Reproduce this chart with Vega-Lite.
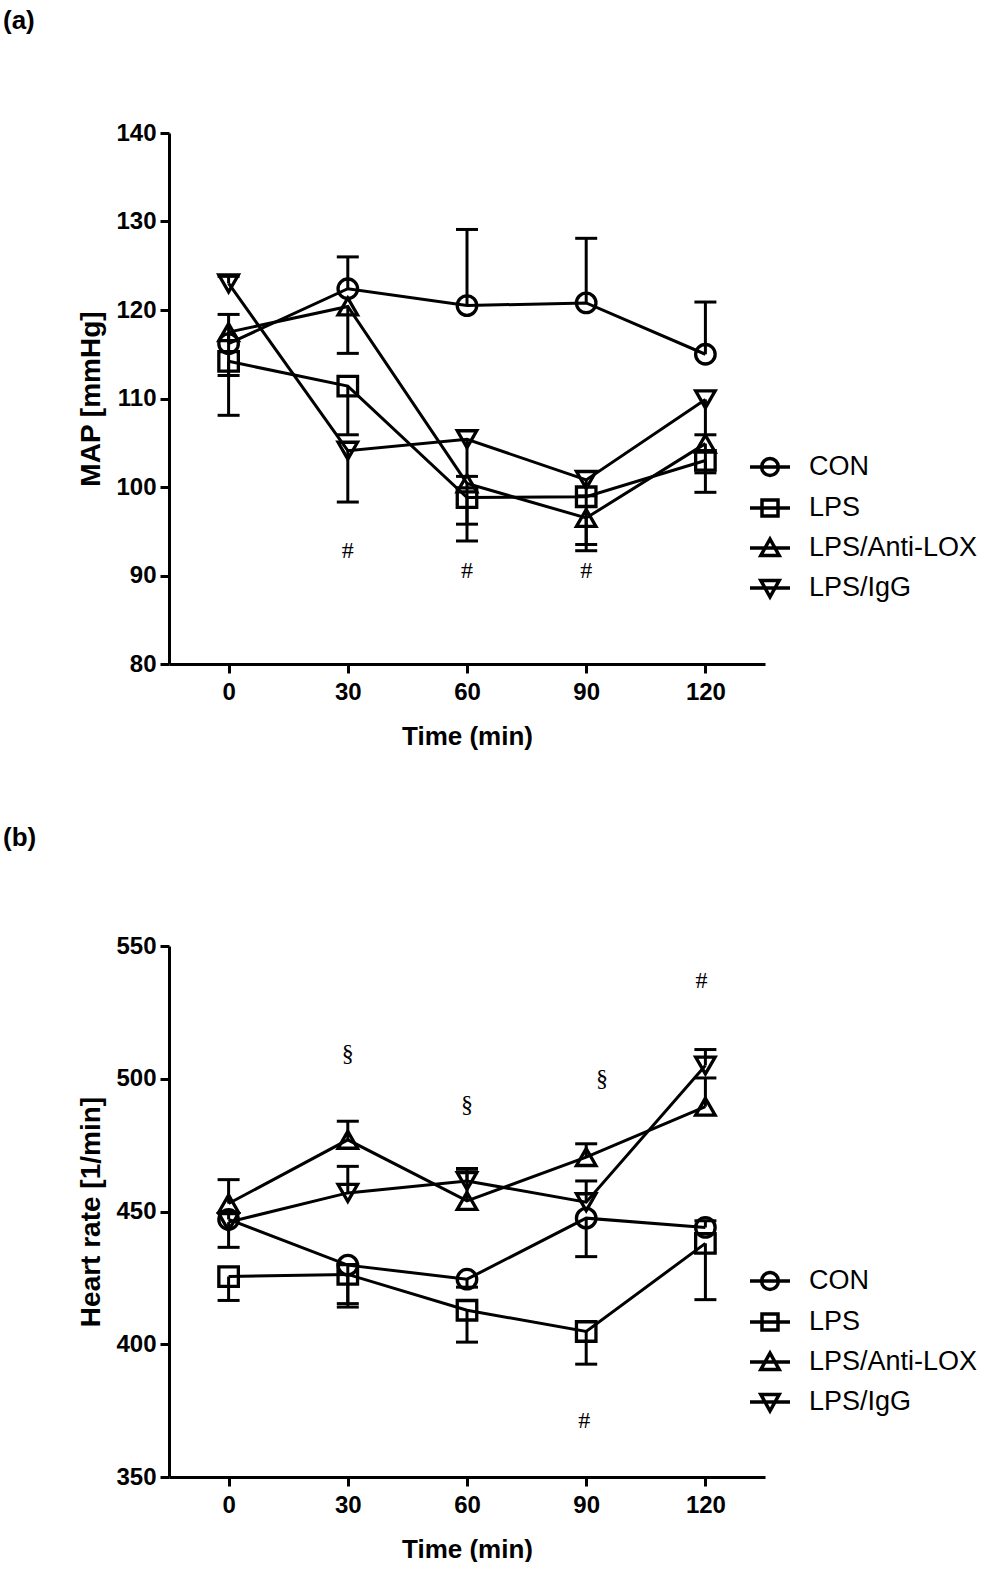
{
  "$schema": "https://vega.github.io/schema/vega-lite/v6.json",
  "background": "white",
  "padding": {"left": 3, "top": 8, "right": 0, "bottom": 0},
  "spacing": 76,
  "config": {
    "view": {"stroke": null},
    "font": "Liberation Sans",
    "axis": {"domainColor": "black", "domainWidth": 3, "tickColor": "black", "tickWidth": 3, "tickSize": 9, "labelFont": "Liberation Sans", "labelFontWeight": "bold", "labelFontSize": 24, "labelColor": "black", "titleFont": "Liberation Sans", "titleFontWeight": "bold", "titleColor": "black", "grid": false, "labelPadding": 4, "labelFlush": false, "labelOverlap": false},
    "axisX": {"titleFontSize": 26, "titlePadding": 19, "labelPadding": 7},
    "axisY": {"titleFontSize": 28, "titlePadding": 10},
    "legend": {"orient": "none", "title": null, "labelFont": "Liberation Sans", "labelFontSize": 27, "labelColor": "black", "labelLimit": 0, "symbolSize": 1600, "symbolStrokeWidth": 3.5, "symbolStrokeColor": "black", "symbolFillColor": "transparent", "symbolOpacity": 1, "labelOffset": 17, "rowPadding": 3, "padding": 0},
    "title": {"font": "Liberation Sans", "fontWeight": "bold", "fontSize": 26, "color": "black", "anchor": "start", "frame": "group"}
  },
  "datasets": {
    "a": [
      {"t": 0, "g": "CON", "v": 116.2, "e": 119.5},
      {"t": 30, "g": "CON", "v": 122.4, "e": 126.0},
      {"t": 60, "g": "CON", "v": 120.5, "e": 129.1},
      {"t": 90, "g": "CON", "v": 120.8, "e": 128.1},
      {"t": 120, "g": "CON", "v": 115.0, "e": 120.9},
      {"t": 0, "g": "LPS", "v": 114.2, "e": 108.1},
      {"t": 30, "g": "LPS", "v": 111.4, "e": 105.9},
      {"t": 60, "g": "LPS", "v": 98.8, "e": 93.9},
      {"t": 90, "g": "LPS", "v": 98.9, "e": 93.5},
      {"t": 120, "g": "LPS", "v": 103.0, "e": 99.4},
      {"t": 0, "g": "LPS/Anti-LOX", "v": 117.5, "e": 112.6},
      {"t": 30, "g": "LPS/Anti-LOX", "v": 120.4, "e": 115.1},
      {"t": 60, "g": "LPS/Anti-LOX", "v": 100.4, "e": 95.8},
      {"t": 90, "g": "LPS/Anti-LOX", "v": 96.5, "e": 92.8},
      {"t": 120, "g": "LPS/Anti-LOX", "v": 104.9, "e": 101.6},
      {"t": 0, "g": "LPS/IgG", "v": 123.0, "e": 123.8},
      {"t": 30, "g": "LPS/IgG", "v": 104.1, "e": 98.3},
      {"t": 60, "g": "LPS/IgG", "v": 105.4, "e": 101.2},
      {"t": 90, "g": "LPS/IgG", "v": 100.8, "e": 99.0},
      {"t": 120, "g": "LPS/IgG", "v": 109.9, "e": 105.9}
    ],
    "b": [
      {"t": 0, "g": "CON", "v": 447.0, "e": 449.5},
      {"t": 30, "g": "CON", "v": 429.8, "e": 415.3},
      {"t": 60, "g": "CON", "v": 424.5, "e": 421.5},
      {"t": 90, "g": "CON", "v": 447.5, "e": 433.0},
      {"t": 120, "g": "CON", "v": 444.0, "e": 446.5},
      {"t": 0, "g": "LPS", "v": 425.5, "e": 416.5},
      {"t": 30, "g": "LPS", "v": 426.3, "e": 414.0},
      {"t": 60, "g": "LPS", "v": 412.8, "e": 400.8},
      {"t": 90, "g": "LPS", "v": 404.8, "e": 392.5},
      {"t": 120, "g": "LPS", "v": 438.0, "e": 416.8},
      {"t": 0, "g": "LPS/Anti-LOX", "v": 453.0, "e": 462.0},
      {"t": 30, "g": "LPS/Anti-LOX", "v": 477.0, "e": 484.0},
      {"t": 60, "g": "LPS/Anti-LOX", "v": 454.0, "e": 465.0},
      {"t": 90, "g": "LPS/Anti-LOX", "v": 470.5, "e": 475.5},
      {"t": 120, "g": "LPS/Anti-LOX", "v": 489.5, "e": 500.3},
      {"t": 0, "g": "LPS/IgG", "v": 446.0, "e": 436.5},
      {"t": 30, "g": "LPS/IgG", "v": 457.0, "e": 467.0},
      {"t": 60, "g": "LPS/IgG", "v": 461.5, "e": 466.2},
      {"t": 90, "g": "LPS/IgG", "v": 453.5, "e": 461.5},
      {"t": 120, "g": "LPS/IgG", "v": 505.0, "e": 511.0}
    ],
    "annA": [
      {"t": 30, "v": 92.8, "s": "#"},
      {"t": 60, "v": 90.5, "s": "#"},
      {"t": 90, "v": 90.5, "s": "#"}
    ],
    "annB": [
      {"t": 30, "v": 509.5, "s": "§"},
      {"t": 60, "v": 490.0, "s": "§"},
      {"t": 94, "v": 500.0, "s": "§"},
      {"t": 119, "v": 537.0, "s": "#"},
      {"t": 89.5, "v": 371.0, "s": "#"}
    ]
  },
  "vconcat": [
    {
      "width": 596,
      "height": 531,
      "title": {"text": "(a)", "dx": -166, "offset": 87},
      "resolve": {"scale": {"shape": "independent"}, "legend": {"shape": "independent"}},
      "layer": [
        {
          "data": {"name": "a"},
          "mark": {"type": "line", "color": "black", "strokeWidth": 3},
          "encoding": {
            "x": {"field": "t", "type": "quantitative", "scale": {"domain": [-15, 135], "nice": false, "zero": false}, "axis": {"values": [0, 30, 60, 90, 120], "title": "Time (min)"}},
            "y": {"field": "v", "type": "quantitative", "scale": {"domain": [80, 140], "nice": false, "zero": false}, "axis": {"values": [80, 90, 100, 110, 120, 130, 140], "title": "MAP [mmHg]"}},
            "detail": {"field": "g", "type": "nominal"}
          }
        },
        {
          "data": {"name": "a"},
          "mark": {"type": "rule", "color": "black", "strokeWidth": 3},
          "encoding": {
            "x": {"field": "t", "type": "quantitative", "scale": {"domain": [-15, 135], "nice": false, "zero": false}, "axis": {"values": [0, 30, 60, 90, 120], "title": "Time (min)"}},
            "y": {"field": "v", "type": "quantitative", "scale": {"domain": [80, 140], "nice": false, "zero": false}, "axis": {"values": [80, 90, 100, 110, 120, 130, 140], "title": "MAP [mmHg]"}},
            "y2": {"field": "e"}
          }
        },
        {
          "data": {"name": "a"},
          "mark": {"type": "tick", "orient": "horizontal", "color": "black", "thickness": 3, "size": 22, "opacity": 1},
          "encoding": {
            "x": {"field": "t", "type": "quantitative", "scale": {"domain": [-15, 135], "nice": false, "zero": false}, "axis": {"values": [0, 30, 60, 90, 120], "title": "Time (min)"}},
            "y": {"field": "e", "type": "quantitative", "scale": {"domain": [80, 140], "nice": false, "zero": false}, "axis": {"values": [80, 90, 100, 110, 120, 130, 140], "title": "MAP [mmHg]"}}
          }
        },
        {
          "data": {"name": "a"},
          "mark": {"type": "point", "filled": false, "color": "black", "strokeWidth": 3.3, "size": 380, "opacity": 1},
          "encoding": {
            "x": {"field": "t", "type": "quantitative", "scale": {"domain": [-15, 135], "nice": false, "zero": false}, "axis": {"values": [0, 30, 60, 90, 120], "title": "Time (min)"}},
            "y": {"field": "v", "type": "quantitative", "scale": {"domain": [80, 140], "nice": false, "zero": false}, "axis": {"values": [80, 90, 100, 110, 120, 130, 140], "title": "MAP [mmHg]"}},
            "shape": {"field": "g", "type": "nominal", "scale": {"domain": ["CON", "LPS", "LPS/Anti-LOX", "LPS/IgG"], "range": ["circle", "square", "triangle-up", "triangle-down"]}, "legend": null}
          }
        },
        {
          "data": {"name": "a"},
          "mark": {"type": "point", "filled": false, "color": "black", "strokeWidth": 3.5, "size": 1600, "opacity": 0},
          "encoding": {
            "x": {"field": "t", "type": "quantitative", "scale": {"domain": [-15, 135], "nice": false, "zero": false}, "axis": {"values": [0, 30, 60, 90, 120], "title": "Time (min)"}},
            "y": {"field": "v", "type": "quantitative", "scale": {"domain": [80, 140], "nice": false, "zero": false}, "axis": {"values": [80, 90, 100, 110, 120, 130, 140], "title": "MAP [mmHg]"}},
            "shape": {"field": "g", "type": "nominal", "scale": {"domain": ["CON", "LPS", "LPS/Anti-LOX", "LPS/IgG"], "range": ["M-1,0H1M0.42,0A0.42,0.42 0 1,1 -0.42,0A0.42,0.42 0 1,1 0.42,0", "M-1,0H1M-0.4,-0.4H0.4V0.4H-0.4Z", "M-1,0H1M0,-0.45L0.46,0.38H-0.46Z", "M-1,0H1M0,0.45L0.46,-0.38H-0.46Z"]}, "legend": {"legendX": 579, "legendY": 312, "symbolOpacity": 1}}
          }
        },
        {
          "data": {"name": "annA"},
          "mark": {"type": "text", "font": "Liberation Serif", "fontSize": 24, "color": "black", "baseline": "middle", "align": "center"},
          "encoding": {
            "x": {"field": "t", "type": "quantitative", "scale": {"domain": [-15, 135], "nice": false, "zero": false}, "axis": {"values": [0, 30, 60, 90, 120], "title": "Time (min)"}},
            "y": {"field": "v", "type": "quantitative", "scale": {"domain": [80, 140], "nice": false, "zero": false}, "axis": {"values": [80, 90, 100, 110, 120, 130, 140], "title": "MAP [mmHg]"}},
            "text": {"field": "s", "type": "nominal"}
          }
        }
      ]
    },
    {
      "width": 596,
      "height": 531,
      "title": {"text": "(b)", "dx": -166, "offset": 83},
      "resolve": {"scale": {"shape": "independent"}, "legend": {"shape": "independent"}},
      "layer": [
        {
          "data": {"name": "b"},
          "mark": {"type": "line", "color": "black", "strokeWidth": 3},
          "encoding": {
            "x": {"field": "t", "type": "quantitative", "scale": {"domain": [-15, 135], "nice": false, "zero": false}, "axis": {"values": [0, 30, 60, 90, 120], "title": "Time (min)"}},
            "y": {"field": "v", "type": "quantitative", "scale": {"domain": [350, 550], "nice": false, "zero": false}, "axis": {"values": [350, 400, 450, 500, 550], "title": "Heart rate [1/min]"}},
            "detail": {"field": "g", "type": "nominal"}
          }
        },
        {
          "data": {"name": "b"},
          "mark": {"type": "rule", "color": "black", "strokeWidth": 3},
          "encoding": {
            "x": {"field": "t", "type": "quantitative", "scale": {"domain": [-15, 135], "nice": false, "zero": false}, "axis": {"values": [0, 30, 60, 90, 120], "title": "Time (min)"}},
            "y": {"field": "v", "type": "quantitative", "scale": {"domain": [350, 550], "nice": false, "zero": false}, "axis": {"values": [350, 400, 450, 500, 550], "title": "Heart rate [1/min]"}},
            "y2": {"field": "e"}
          }
        },
        {
          "data": {"name": "b"},
          "mark": {"type": "tick", "orient": "horizontal", "color": "black", "thickness": 3, "size": 22, "opacity": 1},
          "encoding": {
            "x": {"field": "t", "type": "quantitative", "scale": {"domain": [-15, 135], "nice": false, "zero": false}, "axis": {"values": [0, 30, 60, 90, 120], "title": "Time (min)"}},
            "y": {"field": "e", "type": "quantitative", "scale": {"domain": [350, 550], "nice": false, "zero": false}, "axis": {"values": [350, 400, 450, 500, 550], "title": "Heart rate [1/min]"}}
          }
        },
        {
          "data": {"name": "b"},
          "mark": {"type": "point", "filled": false, "color": "black", "strokeWidth": 3.3, "size": 380, "opacity": 1},
          "encoding": {
            "x": {"field": "t", "type": "quantitative", "scale": {"domain": [-15, 135], "nice": false, "zero": false}, "axis": {"values": [0, 30, 60, 90, 120], "title": "Time (min)"}},
            "y": {"field": "v", "type": "quantitative", "scale": {"domain": [350, 550], "nice": false, "zero": false}, "axis": {"values": [350, 400, 450, 500, 550], "title": "Heart rate [1/min]"}},
            "shape": {"field": "g", "type": "nominal", "scale": {"domain": ["CON", "LPS", "LPS/Anti-LOX", "LPS/IgG"], "range": ["circle", "square", "triangle-up", "triangle-down"]}, "legend": null}
          }
        },
        {
          "data": {"name": "b"},
          "mark": {"type": "point", "filled": false, "color": "black", "strokeWidth": 3.5, "size": 1600, "opacity": 0},
          "encoding": {
            "x": {"field": "t", "type": "quantitative", "scale": {"domain": [-15, 135], "nice": false, "zero": false}, "axis": {"values": [0, 30, 60, 90, 120], "title": "Time (min)"}},
            "y": {"field": "v", "type": "quantitative", "scale": {"domain": [350, 550], "nice": false, "zero": false}, "axis": {"values": [350, 400, 450, 500, 550], "title": "Heart rate [1/min]"}},
            "shape": {"field": "g", "type": "nominal", "scale": {"domain": ["CON", "LPS", "LPS/Anti-LOX", "LPS/IgG"], "range": ["M-1,0H1M0.42,0A0.42,0.42 0 1,1 -0.42,0A0.42,0.42 0 1,1 0.42,0", "M-1,0H1M-0.4,-0.4H0.4V0.4H-0.4Z", "M-1,0H1M0,-0.45L0.46,0.38H-0.46Z", "M-1,0H1M0,0.45L0.46,-0.38H-0.46Z"]}, "legend": {"legendX": 579, "legendY": 313, "symbolOpacity": 1}}
          }
        },
        {
          "data": {"name": "annB"},
          "mark": {"type": "text", "font": "Liberation Serif", "fontSize": 24, "color": "black", "baseline": "middle", "align": "center"},
          "encoding": {
            "x": {"field": "t", "type": "quantitative", "scale": {"domain": [-15, 135], "nice": false, "zero": false}, "axis": {"values": [0, 30, 60, 90, 120], "title": "Time (min)"}},
            "y": {"field": "v", "type": "quantitative", "scale": {"domain": [350, 550], "nice": false, "zero": false}, "axis": {"values": [350, 400, 450, 500, 550], "title": "Heart rate [1/min]"}},
            "text": {"field": "s", "type": "nominal"}
          }
        }
      ]
    }
  ]
}
